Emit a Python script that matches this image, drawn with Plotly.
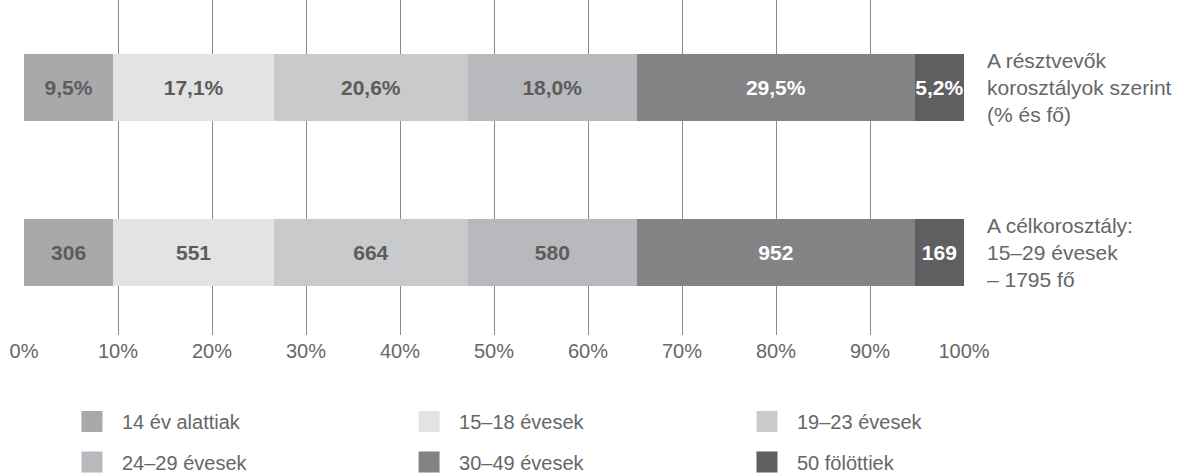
import plotly.graph_objects as go

groups = ["14 év alattiak", "15–18 évesek", "19–23 évesek", "24–29 évesek", "30–49 évesek", "50 fölöttiek"]
colors = ["#a9a9ab", "#e2e3e4", "#c9cacc", "#b8b9bc", "#838386", "#5f5e61"]
text_colors = ["#5c5c5c", "#5c5c5c", "#5c5c5c", "#5c5c5c", "#ffffff", "#ffffff"]
pct_values = [9.5, 17.1, 20.6, 18.0, 29.5, 5.2]
count_values = [306, 551, 664, 580, 952, 169]
row_labels = ["A célkorosztály:<br>15–29 évesek<br>– 1795 fő",
              "A résztvevők<br>korosztályok szerint<br>(% és fő)"]
x_ticks = [0, 10, 20, 30, 40, 50, 60, 70, 80, 90, 100]
x_tick_labels = [f"{t}%" for t in x_ticks]

FONT = "Liberation Sans, Arial, sans-serif"
total = sum(count_values)

fig = go.Figure()
for i, g in enumerate(groups):
    share = count_values[i] / total * 100
    fig.add_trace(go.Bar(
        y=[row_labels[0], row_labels[1]],
        x=[share, share],
        orientation="h",
        marker=dict(color=colors[i], line=dict(width=0)),
        text=[str(count_values[i]), f"{pct_values[i]:.1f}%".replace(".", ",")],
        textposition="inside",
        insidetextanchor="middle",
        textangle=0,
        textfont=dict(family=FONT, size=21, color=text_colors[i], weight="bold"),
        constraintext="none",
        width=0.406,
        showlegend=False,
        hoverinfo="skip",
    ))

# legend: one legend per entry, arranged in a 3 x 2 grid
legend_names = ["legend", "legend2", "legend3", "legend4", "legend5", "legend6"]
for i, g in enumerate(groups):
    fig.add_trace(go.Scatter(
        x=[None], y=[None], mode="markers", name=g,
        marker=dict(symbol="square", size=16, color=colors[i], line=dict(width=5, color=colors[i])),
        legend=legend_names[i],
        showlegend=True,
        hoverinfo="skip",
    ))

col_x = [0.0404, 0.399, 0.7585]
row_y = [-0.258, -0.379]
legend_layout = {}
for i, name in enumerate(legend_names):
    legend_layout[name] = dict(
        x=col_x[i % 3], y=row_y[i // 3], xanchor="left", yanchor="middle",
        orientation="v", itemwidth=50,
        font=dict(family=FONT, size=20, color="#666666"),
        bgcolor="rgba(0,0,0,0)", borderwidth=0,
        itemclick=False, itemdoubleclick=False,
    )

fig.update_layout(
    width=1184, height=473,
    margin=dict(l=24, r=220, t=0, b=138, autoexpand=False),
    paper_bgcolor="white", plot_bgcolor="white",
    barmode="stack",
    xaxis=dict(
        range=[0, 100], tickvals=x_ticks, ticktext=x_tick_labels,
        showgrid=True, gridcolor="#8a8a8a", gridwidth=1,
        zeroline=False, showline=False, ticks="", automargin=False,
        tickfont=dict(family=FONT, size=20, color="#676767"),
        ticklabelstandoff=2, fixedrange=True,
    ),
    yaxis=dict(
        type="category", categoryorder="array", categoryarray=row_labels,
        range=[-0.5, 1.53], side="right", automargin=False,
        showgrid=False, zeroline=False, showline=False, ticks="",
        tickfont=dict(family=FONT, size=21, color="#666666"),
        ticklabelstandoff=22, fixedrange=True,
    ),
    **legend_layout,
)

fig.write_html(
    "out.html",
    config={"displayModeBar": False},
    post_script="document.body.style.margin='0';document.body.style.overflow='hidden';",
)
